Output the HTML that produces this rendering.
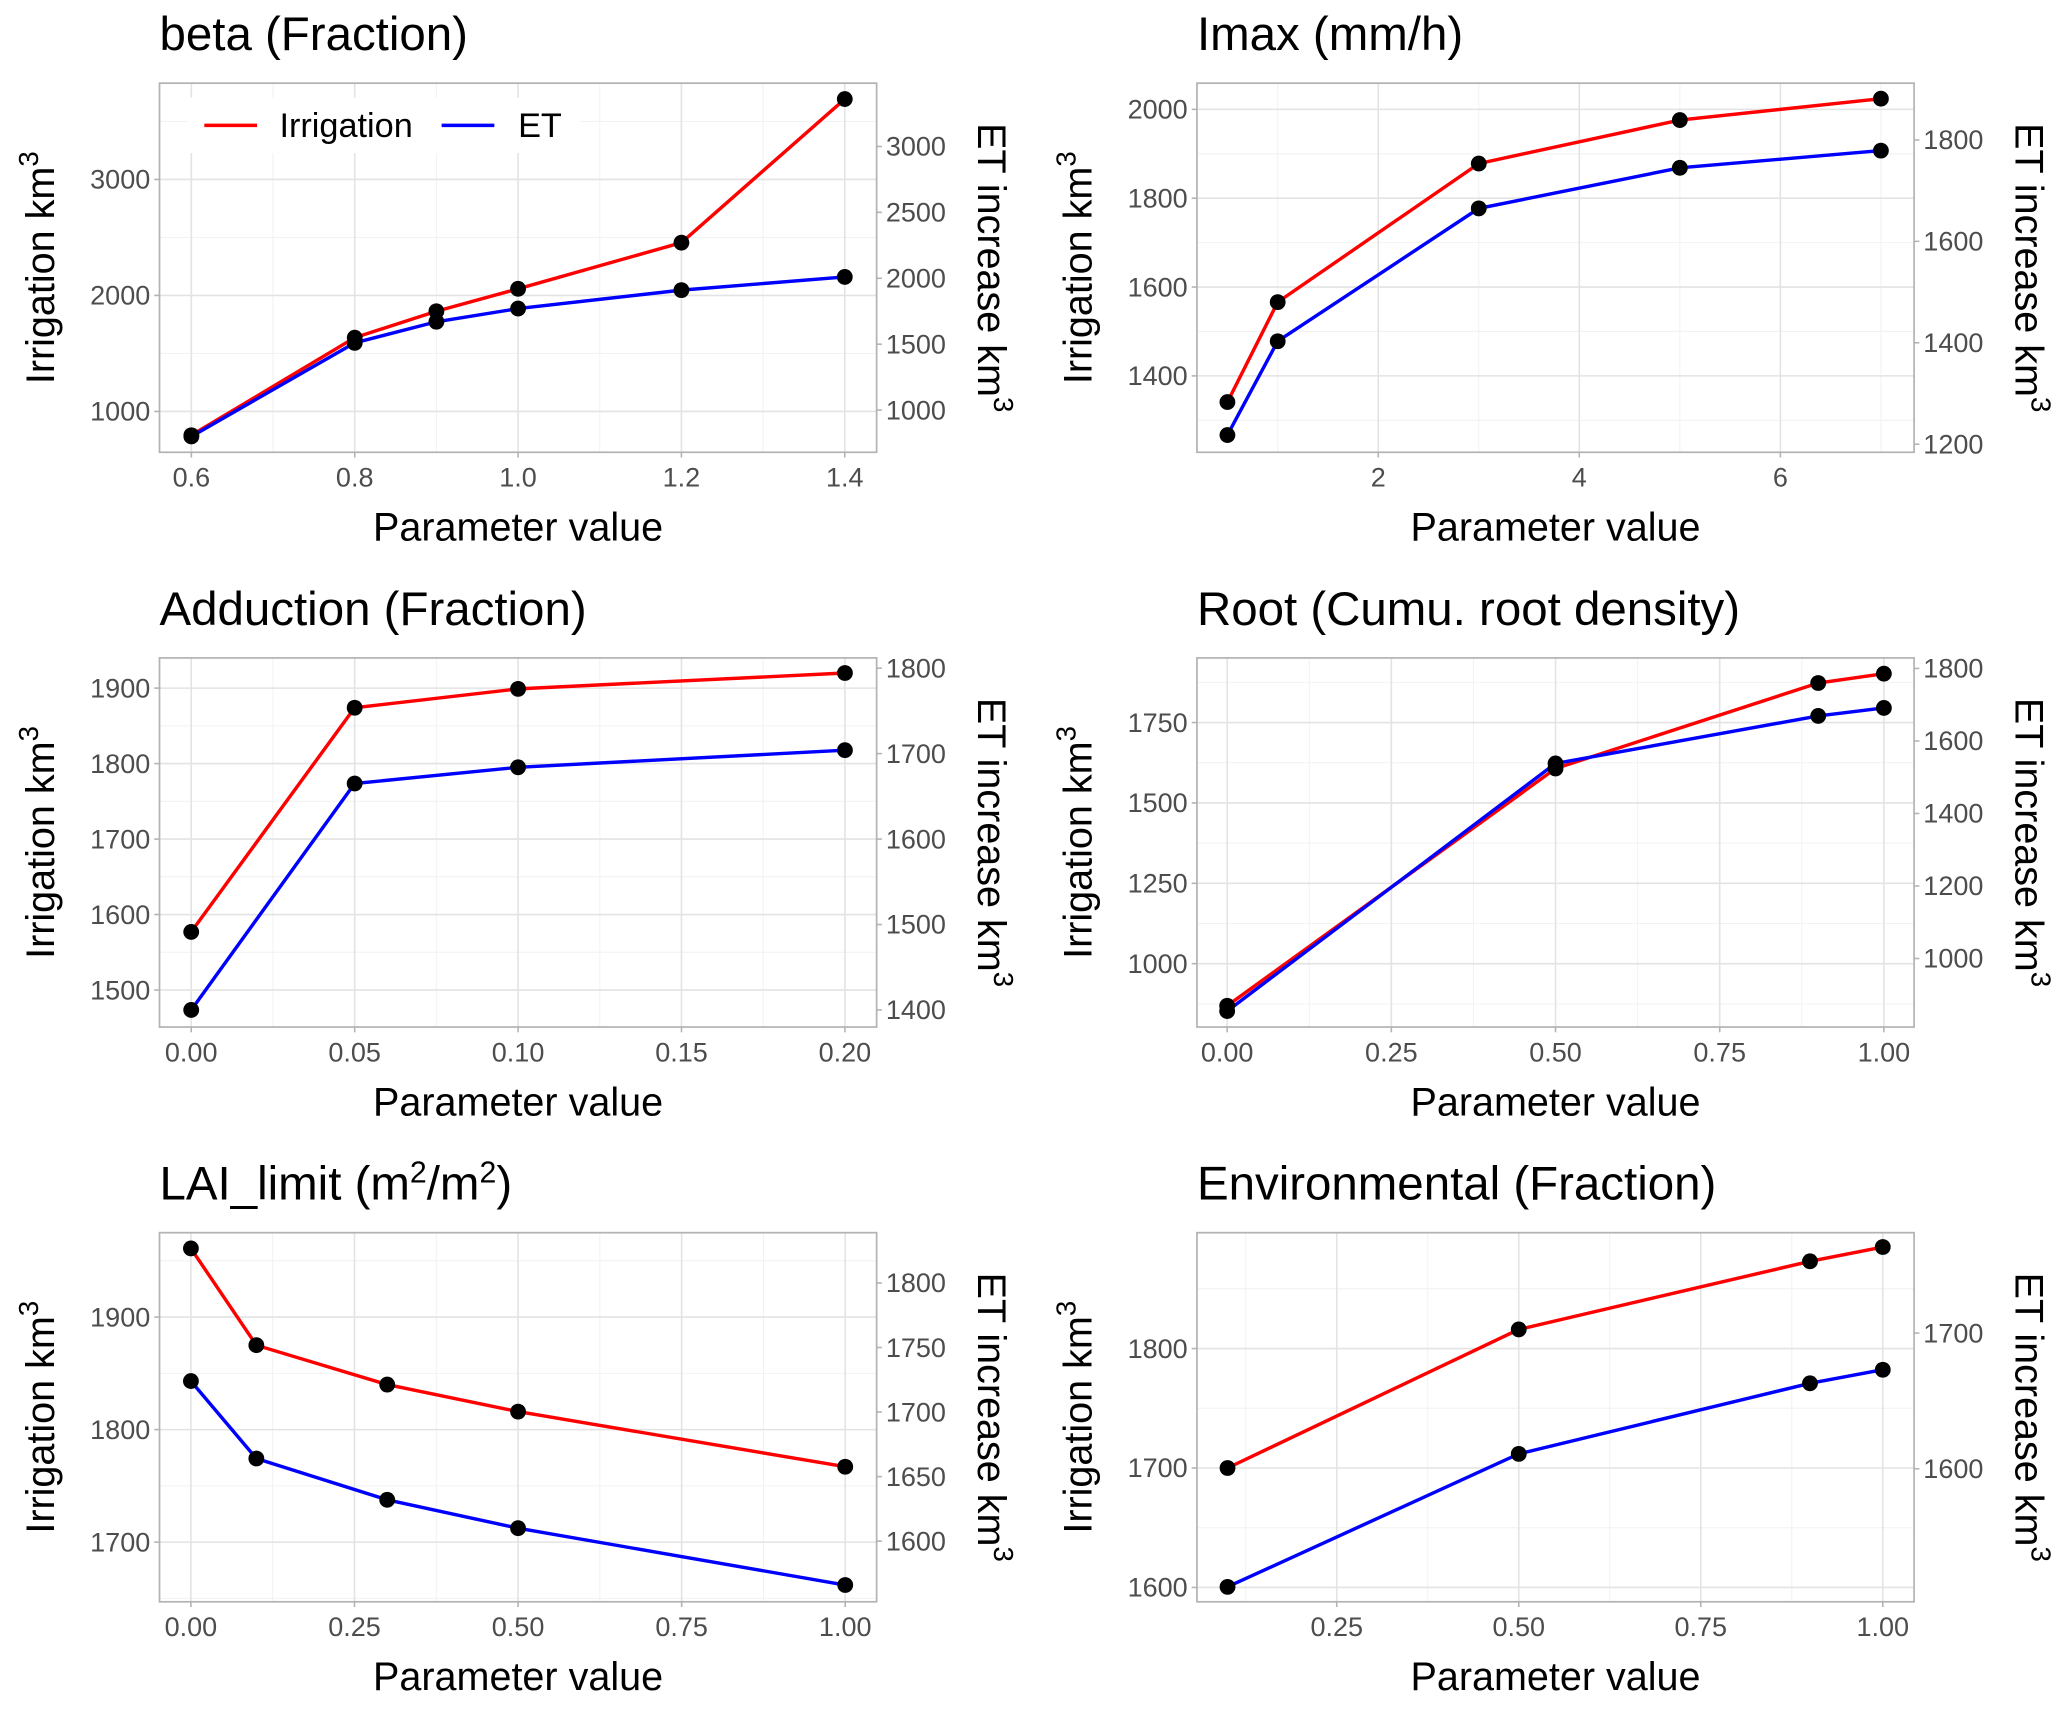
<!DOCTYPE html>
<html><head><meta charset="utf-8"><style>
html,body{margin:0;padding:0;background:#fff}
svg{display:block;font-family:"Liberation Sans",Arial,sans-serif}
</style></head><body>
<svg id="chart" width="2067" height="1710" viewBox="0 0 1568 1297" xmlns="http://www.w3.org/2000/svg"></svg>
<script>
// ---- data (per panel) ----
const titles = ["beta (Fraction)", "Imax (mm/h)", "Adduction (Fraction)", "Root (Cumu. root density)", "LAI_limit", "Environmental (Fraction)"];
const xValues1 = [0.6, 0.8, 0.9, 1.0, 1.2, 1.4];
const irr1 = [795, 1636, 1864, 2057, 2455, 3693];
const et1 = [800, 1510, 1670, 1770, 1910, 2010];
const xValues2 = [0.5, 1, 3, 5, 7];
const irr2 = [1341, 1566, 1878, 1976, 2024];
const et2 = [1218, 1403, 1665, 1745, 1779];
const xValues3 = [0, 0.05, 0.1, 0.2];
const irr3 = [1577, 1874, 1899, 1920];
const et3 = [1400, 1665, 1684, 1704];
const xValues4 = [0, 0.5, 0.9, 1];
const irr4 = [869, 1607, 1873, 1902];
const et4 = [855, 1538, 1669, 1691];
const xValues5 = [0, 0.1, 0.3, 0.5, 1];
const irr5 = [1961, 1875, 1840, 1816, 1767];
const et5 = [1724, 1664, 1632, 1610, 1566];
const xValues6 = [0.1, 0.5, 0.9, 1];
const irr6 = [1700, 1816, 1873, 1885];
const et6 = [1513, 1611, 1663, 1673];
// tick labels
const xTicks1 = [0.6, 0.8, 1.0, 1.2, 1.4], xLab1 = ["0.6","0.8","1.0","1.2","1.4"];
const xTicks2 = [2, 4, 6], xLab2 = ["2","4","6"];
const xTicks3 = [0, 0.05, 0.1, 0.15, 0.2], xLab3 = ["0.00","0.05","0.10","0.15","0.20"];
const xTicks4 = [0, 0.25, 0.5, 0.75, 1], xLab4 = ["0.00","0.25","0.50","0.75","1.00"];
const xTicks5 = [0, 0.25, 0.5, 0.75, 1], xLab5 = ["0.00","0.25","0.50","0.75","1.00"];
const xTicks6 = [0.25, 0.5, 0.75, 1], xLab6 = ["0.25","0.50","0.75","1.00"];
const yTicks1 = [1000, 2000, 3000], rTicks1 = [1000, 1500, 2000, 2500, 3000];
const yTicks2 = [1400, 1600, 1800, 2000], rTicks2 = [1200, 1400, 1600, 1800];
const yTicks3 = [1500, 1600, 1700, 1800, 1900], rTicks3 = [1400, 1500, 1600, 1700, 1800];
const yTicks4 = [1000, 1250, 1500, 1750], rTicks4 = [1000, 1200, 1400, 1600, 1800];
const yTicks5 = [1700, 1800, 1900], rTicks5 = [1600, 1650, 1700, 1750, 1800];
const yTicks6 = [1600, 1700, 1800], rTicks6 = [1600, 1700];
// axis domains
const xDom = [[0.561,1.439],[0.197,7.33],[-0.0097,0.2097],[-0.046,1.046],[-0.048,1.048],[0.058,1.043]];
const yDom = [[648,3830],[1228,2059],[1451,1940],[803,1951],[1647,1975],[1588,1897]];
const rDom = [[680,3480],[1184,1912],[1380,1812],[811,1829],[1553,1839],[1502,1774]];

const panels = [
 {x:xValues1,irr:irr1,et:et1,xt:xTicks1,xl:xLab1,yt:yTicks1,rt:rTicks1},
 {x:xValues2,irr:irr2,et:et2,xt:xTicks2,xl:xLab2,yt:yTicks2,rt:rTicks2},
 {x:xValues3,irr:irr3,et:et3,xt:xTicks3,xl:xLab3,yt:yTicks3,rt:rTicks3},
 {x:xValues4,irr:irr4,et:et4,xt:xTicks4,xl:xLab4,yt:yTicks4,rt:rTicks4},
 {x:xValues5,irr:irr5,et:et5,xt:xTicks5,xl:xLab5,yt:yTicks5,rt:rTicks5},
 {x:xValues6,irr:irr6,et:et6,xt:xTicks6,xl:xLab6,yt:yTicks6,rt:rTicks6},
];
const NS = "http://www.w3.org/2000/svg";
const svg = document.getElementById('chart');
function mk(tag, attrs, parent, text){
  const e = document.createElementNS(NS, tag);
  for (const k in attrs) e.setAttribute(k, attrs[k]);
  if (text !== undefined) e.textContent = text;
  (parent||svg).appendChild(e);
  return e;
}
const colsX = [121, 908], rowsY = [63, 499, 935], PW = 544, PH = 280;

panels.forEach((p, i) => {
  const L = colsX[i%2], T = rowsY[Math.floor(i/2)], R = L+PW, B = T+PH;
  const g = mk('g', {});
  
  
  const sx = v => L + (v - xDom[i][0]) / (xDom[i][1]-xDom[i][0]) * PW;
  const sy = v => B - (v - yDom[i][0]) / (yDom[i][1]-yDom[i][0]) * PH;
  const sr = v => B - (v - rDom[i][0]) / (rDom[i][1]-rDom[i][0]) * PH;
  const gx = p.xt, dx = gx.length>1 ? gx[1]-gx[0] : 1;
  for (let k=-1;k<gx.length;k++){ const v = gx[0]+dx*(k+0.5); const px=sx(v); if(px>L&&px<R) mk('line',{x1:px,x2:px,y1:T,y2:B,stroke:'#f2f2f2','stroke-width':0.8},g);}
  const gy = p.yt, dy = gy[1]-gy[0];
  for (let k=-1;k<gy.length;k++){ const v = gy[0]+dy*(k+0.5); const py=sy(v); if(py>T&&py<B) mk('line',{x1:L,x2:R,y1:py,y2:py,stroke:'#f2f2f2','stroke-width':0.8},g);}
  p.xt.forEach((v,k)=>{ const px=sx(v);
    mk('line',{x1:px,x2:px,y1:T,y2:B,stroke:'#e3e3e3','stroke-width':1.2},g);
    mk('line',{x1:px,x2:px,y1:B,y2:B+4,stroke:'#b3b3b3','stroke-width':1.2},g);
    const t = mk('text',{x:px,y:B+26,'text-anchor':'middle','font-size':20.5,fill:'#4d4d4d'},g,p.xl[k]);
     
  });
  p.yt.forEach(v=>{ const py=sy(v);
    mk('line',{x1:L,x2:R,y1:py,y2:py,stroke:'#e3e3e3','stroke-width':1.2},g);
    mk('line',{x1:L-4,x2:L,y1:py,y2:py,stroke:'#b3b3b3','stroke-width':1.2},g);
    const t = mk('text',{x:L-7,y:py+7,'text-anchor':'end','font-size':20.5,fill:'#4d4d4d'},g,String(v));
     
  });
  p.rt.forEach(v=>{ const py=sr(v);
    mk('line',{x1:R,x2:R+4,y1:py,y2:py,stroke:'#b3b3b3','stroke-width':1.2},g);
    const t = mk('text',{x:R+7,y:py+7,'text-anchor':'start','font-size':20.5,fill:'#4d4d4d'},g,String(v));
     
  });
  mk('rect',{x:L,y:T,width:PW,height:PH,fill:'none',stroke:'#b3b3b3','stroke-width':1.3},g);
  const irrPts = p.x.map((v,k)=>sx(v)+','+sy(p.irr[k])).join(' ');
  const etPts = p.x.map((v,k)=>sx(v)+','+sr(p.et[k])).join(' ');
  const l1 = mk('polyline',{points:irrPts,fill:'none',stroke:'#ff0000','stroke-width':2.6},g);
   
  const l2 = mk('polyline',{points:etPts,fill:'none',stroke:'#0000ff','stroke-width':2.6},g);
   
  p.x.forEach((v,k)=>{
    const c1 = mk('circle',{cx:sx(v),cy:sy(p.irr[k]),r:6,fill:'#000'},g);
     
    const c2 = mk('circle',{cx:sx(v),cy:sr(p.et[k]),r:6,fill:'#000'},g);
     
  });
  const tt = mk('text',{x:L,y:T-25,'font-size':36,fill:'#000'},g);
   
  if (i===4){ tt.textContent='LAI_limit  (m'; mk('tspan',{dy:-13,'font-size':23},tt,'2');
    mk('tspan',{dy:13},tt,'/m'); mk('tspan',{dy:-13,'font-size':23},tt,'2'); mk('tspan',{dy:13},tt,')'); }
  else tt.textContent = titles[i];
  const xt = mk('text',{x:L+PW/2,y:B+67,'text-anchor':'middle','font-size':30,fill:'#000'},g,'Parameter value');
   
  const yl = mk('text',{x:0,y:0,'text-anchor':'middle','font-size':30,fill:'#000',transform:`translate(${L-80},${T+PH/2}) rotate(-90)`},g,'Irrigation km');
  mk('tspan',{dy:-12,'font-size':21},yl,'3');
   
  const yr = mk('text',{x:0,y:0,'text-anchor':'middle','font-size':30,fill:'#000',transform:`translate(${R+77},${T+PH/2}) rotate(90)`},g,'ET increase km');
  mk('tspan',{dy:-12,'font-size':21},yr,'3');
   
});
const lg = mk('g',{});
 
mk('rect',{x:142,y:74,width:298,height:42,fill:'#fff'},lg);
mk('line',{x1:155,x2:195,y1:95,y2:95,stroke:'#ff0000','stroke-width':2.6},lg);
const le1 = mk('text',{x:212,y:104,'font-size':26,fill:'#000'},lg,'Irrigation');
 
mk('line',{x1:335,x2:375,y1:95,y2:95,stroke:'#0000ff','stroke-width':2.6},lg);
const le2 = mk('text',{x:393,y:104,'font-size':26,fill:'#000'},lg,'ET');
 
</script>
</body></html>
